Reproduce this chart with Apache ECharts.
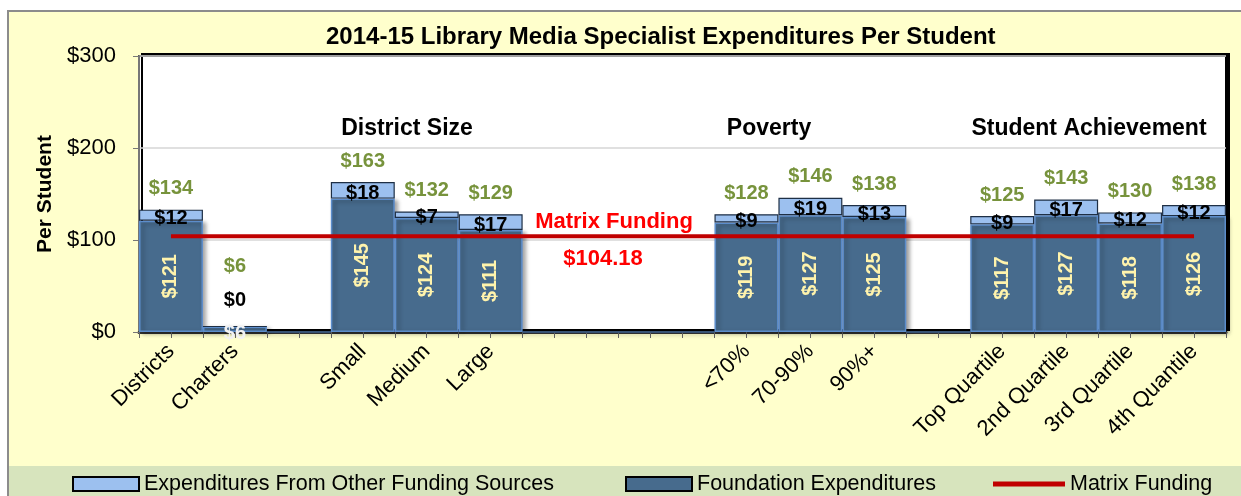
<!DOCTYPE html>
<html><head><meta charset="utf-8">
<script src="https://cdn.jsdelivr.net/npm/echarts@6/dist/echarts.min.js"></script>
<style>html,body{margin:0;padding:0;background:#fff}#c{width:1241px;height:496px}</style>
</head><body><div id="c"></div>
<script>
const categories = ['Districts','Charters','','Small','Medium','Large','','','','<70%','70-90%','90%+','','Top Quartile','2nd Quartile','3rd Quartile','4th Quantile'];
const foundation = [121,6,0,145,124,111,0,0,0,119,127,125,0,117,127,118,126];
const other      = [12,0,0,18,7,17,0,0,0,9,19,13,0,9,17,12,12];
const totals     = [134,6,null,163,132,129,null,null,null,128,146,138,null,125,143,130,138];
const MATRIX = 104.18;
const yTicks = [0,100,200,300];
const groupTitles = ['District Size','Poverty','Student Achievement'];

const FONT = "'Liberation Sans',Arial,sans-serif";
const CHARTER = 1;

const chart = echarts.init(document.getElementById('c'));
const fmt = v => '$' + v;

const fData = foundation.map((v,i) => i === CHARTER ? {value:v, label:{rotate:0, color:'#F2F2F2', offset:[0,4]}} : v);
const oData = other.map((v,i) => i === CHARTER ? {value:v, label:{offset:[0,-26]}} : v);
const tData = totals.map((v,i) => i === CHARTER ? {value:0, label:{distance:50}} : 0);

const LBL = 20;

chart.setOption({
  backgroundColor:'#ffffff',
  animation:false,
  textStyle:{fontFamily:FONT},
  title:{text:'2014-15 Library Media Specialist Expenditures Per Student', left:321, top:20,
    textStyle:{fontFamily:FONT, fontSize:24, fontWeight:'bold', color:'#000'}},
  grid:{left:139, right:15, top:56, bottom:164, show:true, backgroundColor:'#fff', borderColor:'#000', borderWidth:2,
    shadowColor:'#000', shadowBlur:0, shadowOffsetX:3, shadowOffsetY:-2},
  legend:[
    {data:[{name:'Expenditures From Other Funding Sources', icon:'rect'}], left:67, top:468, itemWidth:66, itemHeight:14,
      itemStyle:{borderColor:'#000', borderWidth:2}, textStyle:{fontFamily:FONT, fontSize:21.5, color:'#000'}},
    {data:[{name:'Foundation Expenditures', icon:'rect'}], left:620, top:468, itemWidth:66, itemHeight:14,
      itemStyle:{borderColor:'#000', borderWidth:2}, textStyle:{fontFamily:FONT, fontSize:21.5, color:'#000'}},
    {data:[{name:'Matrix Funding', icon:'rect'}], left:988, top:468, itemWidth:72, itemHeight:5,
      textStyle:{fontFamily:FONT, fontSize:21.5, color:'#000'}}
  ],
  xAxis:[
    {type:'category', data:categories, boundaryGap:true,
      axisLine:{lineStyle:{color:'#333', width:3}}, axisTick:{show:false},
      axisLabel:{interval:0, rotate:45, margin:16, fontFamily:FONT, fontSize:22, color:'#000'}},
    {type:'value', min:0, max:34, interval:1, position:'bottom', axisLine:{show:false},
      axisTick:{show:true, length:6, lineStyle:{color:'#666'}}, axisLabel:{show:false}, splitLine:{show:false}}
  ],
  yAxis:{type:'value', min:0, max:300, interval:100,
    name:'Per Student', nameLocation:'middle', nameGap:82, nameRotate:90,
    nameTextStyle:{fontFamily:FONT, fontSize:21, fontWeight:'bold', color:'#000'},
    axisLine:{show:true, lineStyle:{color:'#777', width:2}},
    axisTick:{show:true, length:6, lineStyle:{color:'#777'}},
    axisLabel:{formatter:v => yTicks.includes(v) ? fmt(v) : '', margin:23, fontFamily:FONT, fontSize:22, color:'#000'},
    splitLine:{lineStyle:{color:'#D6D6D6', width:1.5}}},
  series:[
    {name:'Foundation Expenditures', type:'bar', stack:'a', barCategoryGap:'0%', data:fData,
      itemStyle:{color:'#476B8D', borderColor:'#5C8DCB', borderWidth:1.5,
        shadowColor:'rgba(0,0,0,0.35)', shadowBlur:4, shadowOffsetX:3, shadowOffsetY:2},
      label:{show:true, position:'inside', rotate:90, formatter:p => p.value ? fmt(p.value) : '',
        fontFamily:FONT, fontSize:LBL, fontWeight:'bold', color:'#FFF3AC'}},
    {name:'Expenditures From Other Funding Sources', type:'bar', stack:'a', data:oData,
      itemStyle:{color:'#9CC0EF', borderColor:'#1E2F45', borderWidth:1.2},
      label:{show:true, position:'inside', offset:[0,3], formatter:p => (totals[p.dataIndex]!==null) ? fmt(p.value) : '',
        fontFamily:FONT, fontSize:LBL, fontWeight:'bold', color:'#000'}},
    {name:'total', type:'bar', stack:'a', data:tData, itemStyle:{color:'rgba(0,0,0,0)'},
      label:{show:true, position:'top', distance:11, formatter:p => totals[p.dataIndex]!==null ? fmt(totals[p.dataIndex]) : '',
        fontFamily:FONT, fontSize:LBL, fontWeight:'bold', color:'#77933C'}},
    {name:'Matrix Funding', type:'line', data:categories.map(() => MATRIX), symbol:'none', z:5,
      lineStyle:{color:'#C00000', width:4}, itemStyle:{color:'#C00000'}}
  ],
  graphic:[
    {type:'rect', z:-100, silent:true, shape:{x:8, y:11, width:1240, height:490}, style:{fill:'#FFFFCC', stroke:'#8C8C8C', lineWidth:2}},
    {type:'rect', z:-99, silent:true, shape:{x:9, y:466, width:1240, height:30}, style:{fill:'#D7E4BD'}},
    {type:'text', z:100, x:407, y:129, style:{text:groupTitles[0], font:"bold 23px "+FONT, fill:'#000', textAlign:'center', textVerticalAlign:'middle'}},
    {type:'text', z:100, x:769, y:129, style:{text:groupTitles[1], font:"bold 23px "+FONT, fill:'#000', textAlign:'center', textVerticalAlign:'middle'}},
    {type:'text', z:100, x:1089, y:129, style:{text:groupTitles[2], font:"bold 23px "+FONT, fill:'#000', textAlign:'center', textVerticalAlign:'middle'}},
    {type:'text', z:100, x:614, y:222, style:{text:'Matrix Funding', font:"bold 22px "+FONT, fill:'#FF0000', textAlign:'center', textVerticalAlign:'middle'}},
    {type:'text', z:100, x:603, y:259, style:{text:fmt(MATRIX), font:"bold 22px "+FONT, fill:'#FF0000', textAlign:'center', textVerticalAlign:'middle'}}
  ]
});
</script></body></html>
